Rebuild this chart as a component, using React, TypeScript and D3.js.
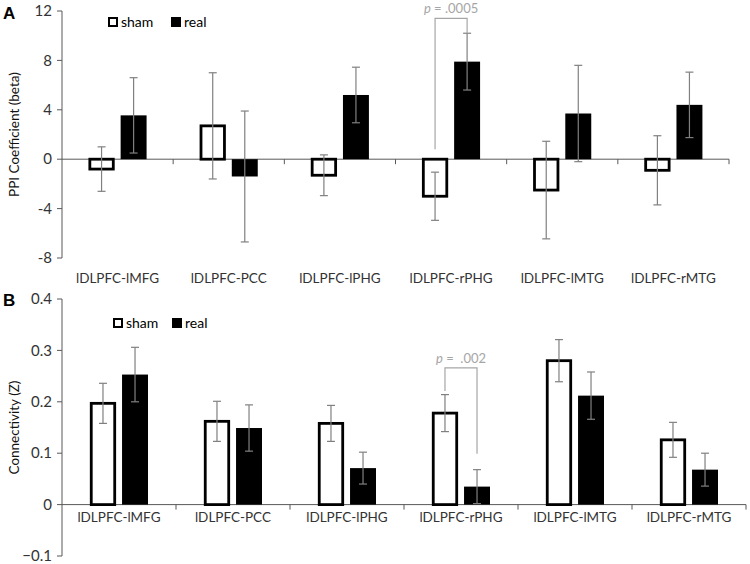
import React from "react";
import * as d3 from "d3";

const categories = ["lDLPFC-lMFG", "lDLPFC-PCC", "lDLPFC-lPHG", "lDLPFC-rPHG", "lDLPFC-lMTG", "lDLPFC-rMTG"];
const seriesNames = ["sham", "real"];

const ppiSham = [-0.8, 2.7, -1.3, -3.0, -2.5, -0.9];
const ppiShamErr = [1.8, 4.3, 1.65, 1.95, 3.95, 2.8];
const ppiReal = [3.55, -1.4, 5.2, 7.9, 3.7, 4.4];
const ppiRealErr = [3.05, 5.3, 2.25, 2.3, 3.9, 2.65];
const ppiTicks = [-8, -4, 0, 4, 8, 12];

const connSham = [0.197, 0.162, 0.158, 0.178, 0.28, 0.126];
const connShamErr = [0.039, 0.039, 0.035, 0.036, 0.041, 0.034];
const connReal = [0.253, 0.149, 0.071, 0.035, 0.212, 0.068];
const connRealErr = [0.053, 0.045, 0.031, 0.033, 0.046, 0.032];
const connTicks = [-0.1, 0, 0.1, 0.2, 0.3, 0.4];

// significance brackets: category index, left-leg bottom, top, right-leg bottom, label
const ppiBracket = { cat: 3, left: 0.8, top: 11.4, right: 10.2, label: ".0005" };
const connBracket = { cat: 3, left: 0.221, top: 0.266, right: 0.099, label: " .002" };

const FONT = "Lato, 'Open Sans', sans-serif";
const AXIS = "#595959";
const TEXT = "#333";
const ERR = "#808080";

type PanelProps = {
  letter: string;
  letterY: number;
  title: string;
  sham: number[];
  shamErr: number[];
  real: number[];
  realErr: number[];
  ticks: number[];
  fmt: (v: number) => string;
  x0: number;
  x1: number;
  yTop: number;
  yBottom: number;
  labelY: number;
  legendX: number[];
  legendY: number;
  bracket: { cat: number; left: number; top: number; right: number; label: string };
};

function Panel(p: PanelProps) {
  const y = d3.scaleLinear().domain([p.ticks[0], p.ticks[p.ticks.length - 1]]).range([p.yBottom, p.yTop]);
  const x = d3.scaleBand<string>().domain(categories).range([p.x0, p.x1]).padding(0);
  const bw = x.bandwidth();
  const inner = d3.scaleBand<string>().domain(seriesNames).range([bw / 2 - 29, bw / 2 + 29]).paddingInner(0.19);
  const w = inner.bandwidth();
  const y0 = y(0);
  const vals: Record<string, number[]> = { sham: p.sham, real: p.real };
  const errs: Record<string, number[]> = { sham: p.shamErr, real: p.realErr };
  const edges = [...categories.map((c) => x(c)!), p.x1];
  const titleCy = (p.yTop + p.yBottom) / 2;
  const bx = (s: string) => x(categories[p.bracket.cat])! + inner(s)! + w / 2;
  return (
    <g>
      <text x={3} y={p.letterY} fontFamily="'Liberation Sans', Arial, sans-serif" fontWeight="bold" fontSize={17} fill="#000">
        {p.letter}
      </text>
      <text
        transform={`translate(19,${titleCy}) rotate(-90)`}
        textAnchor="middle"
        fontFamily={FONT}
        fontSize={13.5}
        fill="#111"
      >
        {p.title}
      </text>
      {/* y axis */}
      <line x1={p.x0} x2={p.x0} y1={p.yTop} y2={p.yBottom} stroke={AXIS} strokeWidth={1} />
      {p.ticks.map((t) => (
        <g key={t}>
          <line x1={p.x0 - 5} x2={p.x0} y1={y(t)} y2={y(t)} stroke={AXIS} />
          <text x={p.x0 - 10} y={y(t)} dy="0.35em" textAnchor="end" fontFamily={FONT} fontSize={15} fill={TEXT}>
            {p.fmt(t)}
          </text>
        </g>
      ))}
      {/* x axis */}
      <line x1={p.x0} x2={p.x1} y1={y0} y2={y0} stroke={AXIS} strokeWidth={1} />
      {edges.slice(1).map((e, i) => (
        <line key={i} x1={e} x2={e} y1={y0} y2={y0 + 5} stroke={AXIS} />
      ))}
      {categories.map((c) => (
        <text key={c} x={x(c)! + bw / 2} y={p.labelY} textAnchor="middle" fontFamily={FONT} fontSize={13.5} fill={TEXT}>
          {c}
        </text>
      ))}
      {/* bars */}
      {categories.map((c, i) =>
        seriesNames.map((s) => {
          const v = vals[s][i];
          const left = x(c)! + inner(s)!;
          const top = Math.min(y(v), y0);
          const h = Math.abs(y(v) - y0);
          return s === "sham" ? (
            <rect key={c + s} x={left + 1.25} y={top} width={w - 2.5} height={h} fill="#fff" stroke="#000" strokeWidth={2.8} />
          ) : (
            <rect key={c + s} x={left} y={top} width={w} height={h} fill="#000" />
          );
        })
      )}
      {/* error bars */}
      {categories.map((c, i) =>
        seriesNames.map((s) => {
          const cx = x(c)! + inner(s)! + w / 2;
          const v = vals[s][i];
          const e = errs[s][i];
          return (
            <g key={c + s + "e"} stroke={ERR} strokeWidth={1.2}>
              <line x1={cx} x2={cx} y1={y(v + e)} y2={y(v - e)} />
              <line x1={cx - 4} x2={cx + 4} y1={y(v + e)} y2={y(v + e)} />
              <line x1={cx - 4} x2={cx + 4} y1={y(v - e)} y2={y(v - e)} />
            </g>
          );
        })
      )}
      {/* bracket */}
      <path
        d={`M${bx("sham")},${y(p.bracket.left)}V${y(p.bracket.top)}H${bx("real")}V${y(p.bracket.right)}`}
        fill="none"
        stroke="#a6a6a6"
        strokeWidth={1.2}
      />
      <text
        x={(bx("sham") + bx("real")) / 2}
        y={y(p.bracket.top) - 5}
        textAnchor="middle"
        fontFamily={FONT}
        fontSize={13}
        fill="#a6a6a6"
        style={{ whiteSpace: "pre" }}
      >
        <tspan fontStyle="italic">p</tspan>
        {" = " + p.bracket.label}
      </text>
      {/* legend */}
      {seriesNames.map((s, i) => (
        <g key={s}>
          {s === "sham" ? (
            <rect x={p.legendX[i] + 1} y={p.legendY - 8} width={8} height={8} fill="#fff" stroke="#000" strokeWidth={2} />
          ) : (
            <rect x={p.legendX[i]} y={p.legendY - 9} width={10} height={10} fill="#000" />
          )}
          <text x={p.legendX[i] + 13} y={p.legendY + 1} fontFamily={FONT} fontSize={14} fill="#000">
            {s}
          </text>
        </g>
      ))}
    </g>
  );
}

export default function App() {
  return (
    <svg width={750} height={564} style={{ position: "absolute", left: 0, top: 0, background: "#fff" }}>
      <Panel
        letter="A"
        letterY={19}
        title="PPI Coefficient (beta)"
        sham={ppiSham}
        shamErr={ppiShamErr}
        real={ppiReal}
        realErr={ppiRealErr}
        ticks={ppiTicks}
        fmt={(v) => String(v)}
        x0={62}
        x1={729}
        yTop={11}
        yBottom={258}
        labelY={283}
        legendX={[108, 171]}
        legendY={26}
        bracket={ppiBracket}
      />
      <Panel
        letter="B"
        letterY={306}
        title="Connectivity (Z)"
        sham={connSham}
        shamErr={connShamErr}
        real={connReal}
        realErr={connRealErr}
        ticks={connTicks}
        fmt={(v) => (v === 0 ? "0" : d3.format(".1f")(v))}
        x0={62}
        x1={746}
        yTop={299}
        yBottom={556}
        labelY={522}
        legendX={[113, 172]}
        legendY={327}
        bracket={connBracket}
      />
    </svg>
  );
}
